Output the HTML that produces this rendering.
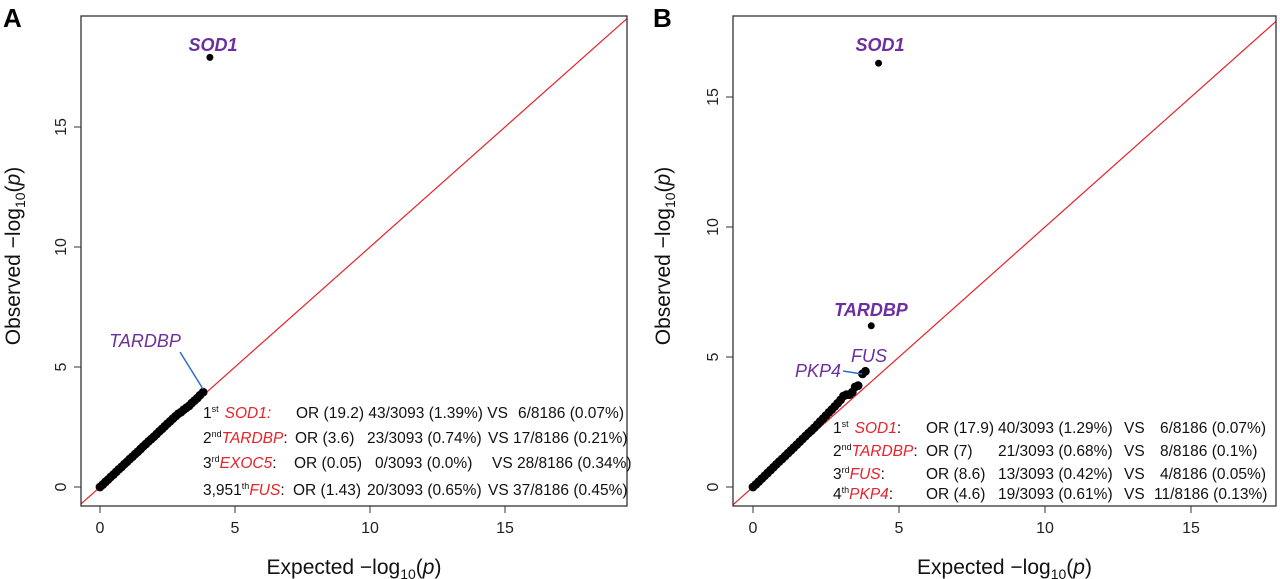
<!DOCTYPE html>
<html><head><meta charset="utf-8">
<style>
html,body{margin:0;padding:0;background:#fff;}
svg{display:block;font-family:"Liberation Sans",Arial,sans-serif;}
.tk{font-size:16px;fill:#222;}
.tb{font-size:15.5px;fill:#111;font-family:"Liberation Sans Narrow","Liberation Sans",sans-serif;}
.red{fill:#e8212a;font-style:italic;}
</style></head>
<body>
<svg id="chart" width="1280" height="579" viewBox="0 0 1280 579">
<text x="3" y="27" font-size="26" font-weight="bold">A</text>
<text x="653" y="27" font-size="26" font-weight="bold">B</text>
<g id="panelA"></g>
<g id="panelB"></g>

<!-- Panel A annotations -->
<text x="213" y="51" font-size="18" font-weight="bold" font-style="italic" fill="#6b2fa0" text-anchor="middle">SOD1</text>
<text x="145" y="347" font-size="18" font-style="italic" fill="#6b2fa0" text-anchor="middle">TARDBP</text>
<line x1="180" y1="352" x2="203" y2="389" stroke="#2f6fc4" stroke-width="1.5"/>
<g class="tb">
 <text x="203" y="418">1<tspan font-size="9" dy="-6">st</tspan><tspan dy="6" dx="6" class="red">SOD1:</tspan></text>
 <text x="296" y="418">OR (19.2) 43/3093 (1.39%)  VS</text><text x="518" y="418">6/8186 (0.07%)</text>
 <text x="203" y="443">2<tspan font-size="9" dy="-6">nd</tspan><tspan dy="6" class="red">TARDBP</tspan><tspan>:</tspan></text>
 <text x="295" y="443">OR (3.6)</text><text x="367" y="443">23/3093 (0.74%)</text><text x="488" y="443">VS 17/8186 (0.21%)</text>
 <text x="203" y="468">3<tspan font-size="9" dy="-6">rd</tspan><tspan dy="6" class="red">EXOC5</tspan><tspan>:</tspan></text>
 <text x="294" y="468">OR (0.05)</text><text x="375" y="468">0/3093 (0.0%)</text><text x="492" y="468">VS 28/8186 (0.34%)</text>
 <text x="203" y="495">3,951<tspan font-size="9" dy="-6">th</tspan><tspan dy="6" class="red">FUS</tspan><tspan>:</tspan></text>
 <text x="293" y="495">OR (1.43)</text><text x="367" y="495">20/3093 (0.65%)</text><text x="488" y="495">VS 37/8186 (0.45%)</text>
</g>

<!-- Panel B annotations -->
<text x="880" y="51" font-size="18" font-weight="bold" font-style="italic" fill="#6b2fa0" text-anchor="middle">SOD1</text>
<text x="871" y="316" font-size="18" font-weight="bold" font-style="italic" fill="#6b2fa0" text-anchor="middle">TARDBP</text>
<text x="869" y="362" font-size="18" font-style="italic" fill="#6b2fa0" text-anchor="middle">FUS</text>
<text x="818" y="377" font-size="18" font-style="italic" fill="#6b2fa0" text-anchor="middle">PKP4</text>
<line x1="843" y1="371" x2="862" y2="374" stroke="#2f6fc4" stroke-width="1.5"/>
<g class="tb">
 <text x="833" y="433">1<tspan font-size="9" dy="-6">st</tspan><tspan dy="6" dx="6" class="red">SOD1</tspan><tspan>:</tspan></text>
 <text x="926" y="433">OR (17.9)</text><text x="998" y="433">40/3093 (1.29%)</text><text x="1124" y="433">VS</text><text x="1160" y="433">6/8186 (0.07%)</text>
 <text x="833" y="456">2<tspan font-size="9" dy="-6">nd</tspan><tspan dy="6" class="red">TARDBP</tspan><tspan>:</tspan></text>
 <text x="926" y="456">OR (7)</text><text x="998" y="456">21/3093 (0.68%)</text><text x="1124" y="456">VS</text><text x="1160" y="456">8/8186 (0.1%)</text>
 <text x="833" y="479">3<tspan font-size="9" dy="-6">rd</tspan><tspan dy="6" class="red">FUS</tspan><tspan>:</tspan></text>
 <text x="926" y="479">OR (8.6)</text><text x="998" y="479">13/3093 (0.42%)</text><text x="1124" y="479">VS</text><text x="1160" y="479">4/8186 (0.05%)</text>
 <text x="833" y="499">4<tspan font-size="9" dy="-6">th</tspan><tspan dy="6" class="red">PKP4</tspan><tspan>:</tspan></text>
 <text x="926" y="499">OR (4.6)</text><text x="998" y="499">19/3093 (0.61%)</text><text x="1124" y="499">VS</text><text x="1154" y="499">11/8186 (0.13%)</text>
</g>
</svg>
<script>
// Panel A data
const expA = [0,0.1,0.2,0.3,0.4,0.5,0.6,0.7,0.8,0.9,1.0,1.1,1.2,1.3,1.4,1.5,1.6,1.7,1.8,1.9,2.0,2.1,2.2,2.3,2.4,2.5,2.6,2.7,2.8,2.9,3.0,3.1,3.2,3.3,3.4,3.5,3.6,3.7,3.82,4.07];
const obsA = [0,0.1,0.21,0.31,0.42,0.52,0.63,0.74,0.84,0.95,1.05,1.16,1.26,1.37,1.47,1.58,1.69,1.79,1.9,2.0,2.1,2.21,2.32,2.42,2.53,2.64,2.74,2.85,2.95,3.05,3.12,3.22,3.3,3.38,3.5,3.6,3.7,3.82,3.95,17.9];
const ticksA = [0,5,10,15];
// Panel B data
const expB = [0,0.1,0.2,0.3,0.4,0.5,0.6,0.7,0.8,0.9,1.0,1.1,1.2,1.3,1.4,1.5,1.6,1.7,1.8,1.9,2.0,2.1,2.2,2.3,2.4,2.5,2.6,2.7,2.8,2.9,3.0,3.1,3.2,3.3,3.4,3.5,3.6,3.75,3.85,4.05,4.3];
const obsB = [0,0.1,0.21,0.32,0.43,0.54,0.65,0.76,0.87,0.98,1.08,1.19,1.3,1.41,1.52,1.63,1.74,1.85,1.96,2.07,2.17,2.28,2.4,2.52,2.63,2.75,2.87,2.98,3.1,3.22,3.35,3.5,3.55,3.55,3.65,3.85,3.9,4.35,4.45,6.2,16.3];
const ticksB = [0,5,10,15];

const NS='http://www.w3.org/2000/svg';
function mk(parent,tag,attrs){const e=document.createElementNS(NS,tag);for(const k in attrs)e.setAttribute(k,attrs[k]);parent.appendChild(e);return e;}

function panel(g,cfg,ex,ob,ticks){
  const X=v=>cfg.x0+v*cfg.sx, Y=v=>cfg.y0-v*cfg.sy;
  const L=cfg.L,R=cfg.R,T=16,B=506;
  const vmin=Math.max((L-cfg.x0)/cfg.sx,(cfg.y0-B)/cfg.sy), vmax=Math.min((R-cfg.x0)/cfg.sx,(cfg.y0-T)/cfg.sy);
  const dl=mk(g,'line',{x1:X(vmin),y1:Y(vmin),x2:X(vmax),y2:Y(vmax),stroke:'#e8212a','stroke-width':1.2});
  
  
  const fr=mk(g,'rect',{x:L,y:T,width:R-L,height:B-T,fill:'none',stroke:'#333','stroke-width':1.3});
  
  
  ticks.forEach(t=>{
    const a=mk(g,'line',{x1:X(t),y1:B,x2:X(t),y2:B+7,stroke:'#333'});
    
    
    const at=mk(g,'text',{x:X(t),y:B+27,'text-anchor':'middle',class:'tk'});at.textContent=t;
    
    
    const b=mk(g,'line',{x1:L-7,y1:Y(t),x2:L,y2:Y(t),stroke:'#333'});
    
    
    const bt=mk(g,'text',{x:L-15,y:Y(t),'text-anchor':'middle',class:'tk',transform:`rotate(-90 ${L-15} ${Y(t)})`});bt.textContent=t;
    
    
  });
  for(let i=0;i<ex.length;i++){
    const big=ob[i]>5;
    const c=mk(g,'circle',{cx:X(ex[i]),cy:Y(ob[i]),r:big?3.5:4.4,fill:'#000'});
    
    
  }
  const xl=mk(g,'text',{x:(L+R)/2,y:574,'text-anchor':'middle','font-size':21,fill:'#111'});
  xl.innerHTML='Expected  \u2212log<tspan font-size="14" dy="5">10</tspan><tspan dy="-5">(</tspan><tspan font-style="italic">p</tspan>)';
  
  
  const yc=(T+B)/2-5, yx=cfg.yt;
  const yl=mk(g,'text',{x:yx,y:yc,'text-anchor':'middle','font-size':21,fill:'#111',transform:`rotate(-90 ${yx} ${yc})`});
  yl.innerHTML='Observed  \u2212log<tspan font-size="14" dy="5">10</tspan><tspan dy="-5">(</tspan><tspan font-style="italic">p</tspan>)';
  
  
}
panel(document.getElementById('panelA'),{x0:100,sx:27,y0:487,sy:24,L:81,R:627,yt:20},expA,obsA,ticksA);
panel(document.getElementById('panelB'),{x0:753,sx:29.2,y0:487,sy:26,L:733,R:1276,yt:670},expB,obsB,ticksB);
</script>
</body></html>
